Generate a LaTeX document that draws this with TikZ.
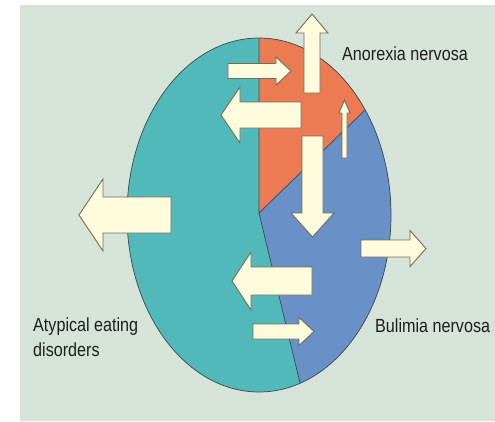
\documentclass[tikz,border=0pt]{standalone}
\usepackage{fontspec}
\usetikzlibrary{calc}
\setmainfont[FakeStretch=0.85]{Liberation Sans}
\definecolor{bgc}{HTML}{D6E3D8}
\definecolor{tealc}{HTML}{52B9BB}
\definecolor{redc}{HTML}{EC7A52}
\definecolor{bluec}{HTML}{6A90C8}
\definecolor{arrfill}{HTML}{FFFBDC}
\definecolor{arrline}{HTML}{6E6E60}
\definecolor{edgec}{HTML}{3A4A4A}
\definecolor{txtc}{HTML}{1E1E1E}
% horizontal block arrow: tail x, head base x, tip x, centre y, shaft half width, head half width
\newcommand{\hblock}[6]{%
  \draw[blockarr] (#1,#4-#5) -- (#2,#4-#5) -- (#2,#4-#6) -- (#3,#4) -- (#2,#4+#6) -- (#2,#4+#5) -- (#1,#4+#5) -- cycle;}
% vertical block arrow: tail y, head base y, tip y, centre x, shaft half width, head half width
\newcommand{\vblock}[6]{%
  \draw[blockarr] (#4-#5,#1) -- (#4-#5,#2) -- (#4-#6,#2) -- (#4,#3) -- (#4+#6,#2) -- (#4+#5,#2) -- (#4+#5,#1) -- cycle;}
\begin{document}
\begin{tikzpicture}[x=1pt,y=-1pt,
  blockarr/.style={fill=arrfill,draw=arrline,line width=0.9pt,line join=miter},
  divline/.style={draw=edgec,line width=0.7pt},
  lbl/.style={inner sep=0pt,text=txtc,font=\fontsize{19}{25}\selectfont,align=left}]
\useasboundingbox (0,0) rectangle (495,421);
\fill[white] (0,0) rectangle (495,421);
\fill[bgc] (20,5) rectangle (495,421);
% sectors
\coordinate (c) at (259,213);
\coordinate (top) at (259,38);
\coordinate (ur) at (365,110);
\coordinate (bot) at (300,383);
\fill[tealc] (259,215) ellipse [x radius=132, y radius=177];
\begin{scope}
  \clip (259,215) ellipse [x radius=132, y radius=177];
  \fill[redc] (c) -- (259,-30) -- ($(c)!3!(ur)$) -- cycle;
  \fill[bluec] (c) -- ($(c)!3!(ur)$) -- (700,700) -- ($(c)!2!(bot)$) -- cycle;
\end{scope}
\draw[divline] (top) -- (c) -- (ur);
\draw[divline] (c) -- (bot);
\draw[divline] (259,215) ellipse [x radius=132, y radius=177];
% arrows
\hblock{228}{276}{291}{71}{7.5}{14}
\vblock{93}{33}{14}{312}{8}{16}
\hblock{301}{240}{221}{115}{13}{28}
\vblock{158}{113}{100}{344.5}{2.5}{5.5}
\vblock{136}{213}{237}{312.5}{10.5}{21.5}
\hblock{171}{103}{79}{215}{18}{36}
\hblock{312}{251}{232}{281}{14}{29}
\hblock{253}{299}{314}{331.5}{7.5}{14}
\hblock{361}{410}{426}{248.5}{8.5}{18}
% labels
\node[lbl,anchor=base west] (an) at (342,60) {Anorexia nervosa};
\node[lbl,anchor=base west] (bn) at (375,332) {Bulimia nervosa};
\node[lbl,anchor=base west] (at) at (33,331) {Atypical eating};
\node[lbl,anchor=base west] (ds) at (33,356) {disorders};
\end{tikzpicture}
\end{document}
